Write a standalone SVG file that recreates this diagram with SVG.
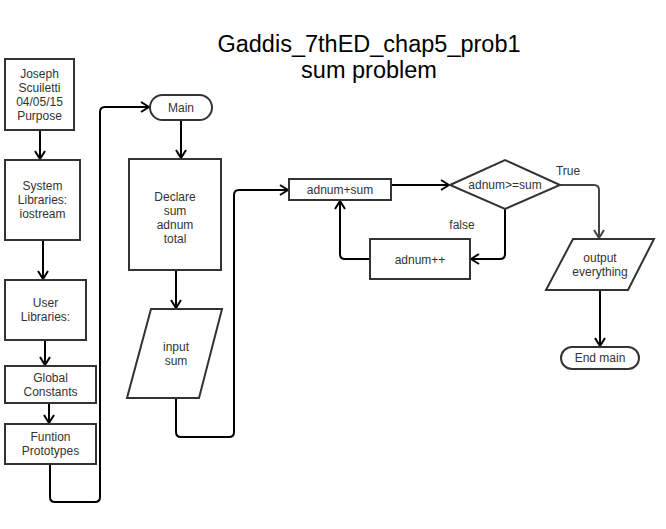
<svg xmlns="http://www.w3.org/2000/svg" width="666" height="529" viewBox="0 0 666 529">
<style>
.n{fill:#fff;stroke:#333;stroke-width:2}
.t{font-family:"Liberation Sans",Arial,sans-serif;font-size:12px;fill:#333;text-anchor:middle}
.title{font-family:"Liberation Sans",Arial,sans-serif;font-size:23.5px;fill:#000;text-anchor:middle}
.c{fill:none;stroke:#000;stroke-width:2;marker-end:url(#a)}
.g{stroke:#444}
</style>
<defs>
<marker id="a" markerUnits="userSpaceOnUse" viewBox="0 0 10 12" refX="9" refY="6" markerWidth="10" markerHeight="12" orient="auto">
<path d="M1,1 L9,6 L1,11" fill="none" stroke="context-stroke" stroke-width="2"/>
</marker>
</defs>
<rect width="666" height="529" fill="#fff"/>
<g id="title">
<text class="title" x="369" y="52">Gaddis_7thED_chap5_prob1</text>
<text class="title" x="369" y="78">sum problem</text>
</g>
<g id="connectors">
<path class="c" d="M40,130 V159"/>
<path class="c" d="M43,240 V279"/>
<path class="c" d="M45,340 V365"/>
<path class="c" d="M49,403 V423"/>
<path class="c" d="M50,464 V497 Q50,502 55,502 H95 Q100,502 100,497 V112 Q100,107 105,107 H149"/>
<path class="c" d="M181,120 V158"/>
<path class="c" d="M176,270 V308"/>
<path class="c" d="M176,398 V432 Q176,437 181,437 H229 Q234,437 234,432 V195 Q234,190 239,190 H288"/>
<path class="c" d="M391,185 H449"/>
<path class="c g" d="M560,185 H594 Q599,185 599,190 V238"/>
<path class="c" d="M505,209 V254 Q505,259 500,259 H471"/>
<path class="c" d="M370,259 H345 Q340,259 340,254 V201"/>
<path class="c" d="M600,290 V346"/>
<text class="t" x="568" y="175">True</text>
<text class="t" x="462" y="229">false</text>
</g>
<g id="n1"><rect class="n" x="5" y="59" width="69" height="71"/>
<text class="t" x="39.5" y="78">Joseph</text><text class="t" x="39.5" y="92">Scuiletti</text><text class="t" x="39.5" y="106">04/05/15</text><text class="t" x="39.5" y="120">Purpose</text></g>
<g id="n2"><rect class="n" x="5" y="160" width="75" height="80"/>
<text class="t" x="42.5" y="190">System</text><text class="t" x="42.5" y="204">Libraries:</text><text class="t" x="42.5" y="218">iostream</text></g>
<g id="n3"><rect class="n" x="5" y="280" width="81" height="60"/>
<text class="t" x="45.5" y="307">User</text><text class="t" x="45.5" y="321">Libraries:</text></g>
<g id="n4"><rect class="n" x="5" y="366" width="91" height="37"/>
<text class="t" x="50.5" y="382">Global</text><text class="t" x="50.5" y="396">Constants</text></g>
<g id="n5"><rect class="n" x="5" y="424" width="91" height="40"/>
<text class="t" x="50.5" y="441">Funtion</text><text class="t" x="50.5" y="455">Prototypes</text></g>
<g id="main"><rect class="n" x="150" y="95" width="62" height="25" rx="12.5"/>
<text class="t" x="181" y="112">Main</text></g>
<g id="declare"><rect class="n" x="129" y="159" width="92" height="111"/>
<text class="t" x="175" y="201">Declare</text><text class="t" x="175" y="215">sum</text><text class="t" x="175" y="229">adnum</text><text class="t" x="175" y="243">total</text></g>
<g id="input"><polygon class="n" points="151,309 222,309 199,398 127,398"/>
<text class="t" x="176" y="351">input</text><text class="t" x="176" y="365">sum</text></g>
<g id="adnumsum"><rect class="n" x="289" y="179" width="102" height="21"/>
<text class="t" x="340" y="194">adnum+sum</text></g>
<g id="decision"><polygon class="n" points="450,185 505,160 560,185 505,209"/>
<text class="t" x="505" y="189">adnum&gt;=sum</text></g>
<g id="adnumpp"><rect class="n" x="370" y="239" width="100" height="40"/>
<text class="t" x="420" y="264">adnum++</text></g>
<g id="output"><polygon class="n" points="573,239 654,239 628,290 546,290"/>
<text class="t" x="600" y="262">output</text><text class="t" x="600" y="276">everything</text></g>
<g id="end"><rect class="n" x="561" y="347" width="78" height="22" rx="11"/>
<text class="t" x="600" y="362">End main</text></g>
</svg>
